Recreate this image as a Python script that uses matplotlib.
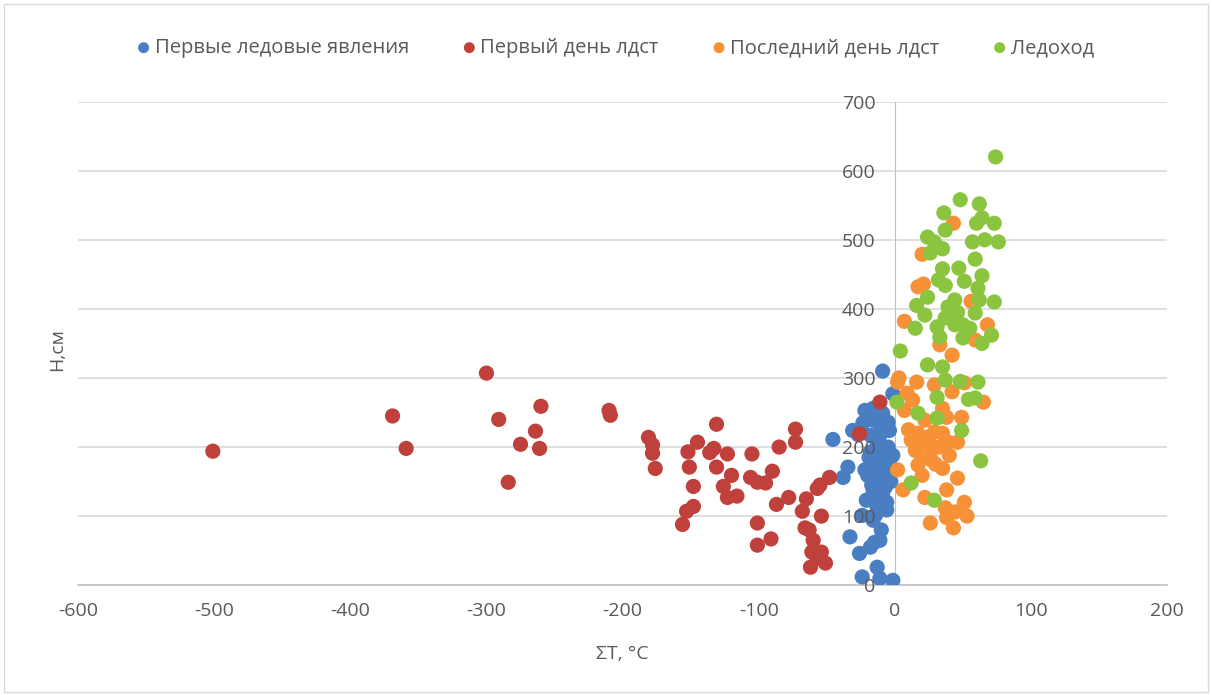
import numpy as np
import matplotlib
matplotlib.use("Agg")
import matplotlib.pyplot as plt
from matplotlib.patches import Rectangle

plt.rcParams['font.family'] = ['Open Sans', 'DejaVu Sans']
plt.rcParams['axes.unicode_minus'] = False

# Первые ледовые явления (blue)
blue_x = [-9, -1.5, -22, -16, -9, -23.5, -16, -11, -5, -31, -18, -11, -4, -45.5, -13, -5,
          -1.5, -18, -4, -13, -34.5, -11, -22, -38, -20, -11, -16, -9, -21, -13, -6, -24,
          -16, -10, -33, -15, -11, -18, -26, -13, -24, -11, -1.5, -14, -8, -17, -12, -7,
          -19, -9, -6, -14, -3, -3, -27]
blue_y = [310, 277, 253, 256, 249, 235, 239, 232, 236, 224, 217, 217, 224, 211, 207, 200,
          188, 193, 181, 181, 171, 169, 167, 156, 159, 152, 138, 133, 123, 113, 109, 101,
          94, 80, 70, 62, 65, 55, 46, 26, 12, 10, 7, 175, 160, 145, 128, 142,
          185, 196, 120, 102, 170, 150, 218]

# Первый день лдст (red)
red_x = [-501, -369, -359, -300, -291, -284, -275, -264, -261, -260, -210, -209, -181, -178,
         -178, -176, -152, -145, -151, -148, -148, -153, -156, -131, -136, -133, -131, -123,
         -120, -126, -123, -116, -105, -106, -101, -95, -90, -85, -73, -73, -87, -78, -101,
         -91, -101, -65, -68, -54, -57, -55, -48, -66, -63, -60, -61, -54, -51, -62, -57,
         -11, -26]
red_y = [194, 245, 198, 307, 240, 149, 204, 223, 198, 259, 253, 246, 214, 203,
         191, 169, 193, 207, 171, 143, 114, 107, 88, 233, 192, 198, 171, 190,
         159, 143, 127, 129, 190, 156, 149, 148, 165, 200, 226, 207, 117, 127, 90,
         67, 58, 125, 107, 100, 140, 145, 156, 83, 80, 65, 48, 48, 32, 26, 39,
         265, 219]

# Последний день лдст (orange)
orange_x = [43, 20, 17, 21, 56, 7, 68, 33, 59, 42, 2, 16, 29, 9, 13, 42, 51, 65, 7, 35,
            22, 38, 49, 29, 17, 12, 22, 35, 46, 39, 27, 17, 27, 35, 2, 20, 46, 6, 38, 22,
            51, 37, 44, 38, 53, 26, 43, 15, 25, 32, 10, 40, 20, 30, 3]
orange_y = [524, 479, 432, 436, 411, 382, 377, 348, 355, 333, 294, 294, 290, 278, 268, 280,
            293, 265, 253, 256, 239, 243, 243, 222, 220, 210, 207, 220, 207, 207, 198, 174,
            181, 169, 167, 159, 155, 138, 138, 127, 120, 112, 106, 98, 100, 90, 83, 195,
            215, 200, 225, 188, 185, 175, 300]

# Ледоход (green)
green_x = [74, 48, 62, 36, 64, 60, 73, 37, 24, 29, 57, 66, 76, 35, 26, 59, 35, 47, 32, 37,
           51, 64, 61, 24, 16, 22, 44, 39, 46, 62, 73, 59, 37, 31, 50, 55, 44, 33, 50, 71,
           64, 4, 15, 24, 35, 37, 48, 61, 31, 1.5, 54, 59, 17, 31, 49, 63, 12, 29]
green_y = [620, 558, 552, 539, 532, 524, 524, 514, 504, 497, 497, 500, 497, 487, 481, 472,
           458, 459, 442, 434, 440, 448, 430, 417, 405, 391, 413, 403, 395, 413, 410, 394,
           387, 374, 377, 372, 377, 359, 358, 362, 350, 339, 372, 319, 316, 297, 295, 294,
           272, 265, 269, 271, 249, 242, 224, 180, 148, 123]

series = [
    ("Первые ледовые явления", blue_x, blue_y, '#4a7ec2'),
    ("Первый день лдст", red_x, red_y, '#c0413c'),
    ("Последний день лдст", orange_x, orange_y, '#f79138'),
    ("Ледоход", green_x, green_y, '#8bc53f'),
]

yticks = np.arange(0, 701, 100)

fig = plt.figure(figsize=(12.12, 6.95), dpi=100)
ax = fig.add_axes([0.0644, 0.158, 0.8986, 0.6957])

# gridlines drawn by hand so the y labels can sit above the markers
for yv in yticks[1:]:
    ax.axhline(yv, color='#d9d9d9', linewidth=1.2, zorder=0)

for name, xs, ys, col in series:
    ax.scatter(xs, ys, s=120, color=col, label=name, edgecolors='none', zorder=3)

ax.set_xlim(-600, 200)
ax.set_ylim(0, 700)
ax.set_xticks(np.arange(-600, 201, 100))
ax.set_yticks(yticks)
ax.yaxis.set_zorder(4)

for s in ['top', 'right']:
    ax.spines[s].set_visible(False)
ax.spines['left'].set_position(('data', 0))
ax.spines['left'].set_color('#bfbfbf')
ax.spines['left'].set_zorder(2)
ax.spines['bottom'].set_color('#bfbfbf')
ax.spines['bottom'].set_linewidth(1.2)
ax.tick_params(axis='both', length=0, labelsize=14, colors='#595959')
ax.tick_params(axis='x', pad=12)
ax.tick_params(axis='y', pad=14)

ax.set_xlabel("ΣT, °C", fontsize=14, color='#595959', labelpad=18)
fig.text(0.047, 0.497, "H,см", rotation=90, fontsize=14, color='#595959',
         ha='center', va='center')

fig.legend(loc='center', bbox_to_anchor=(0.508, 0.931), ncol=4, frameon=False,
           fontsize=14.5, handlelength=0.6, handletextpad=0.25, columnspacing=2.7,
           markerscale=0.72, labelcolor='#595959')

fig.patches.append(Rectangle((0.003, 0.004), 0.994, 0.99, transform=fig.transFigure,
                             fill=False, edgecolor='#d9d9d9', linewidth=1))

fig.savefig("out.png", dpi=100)
